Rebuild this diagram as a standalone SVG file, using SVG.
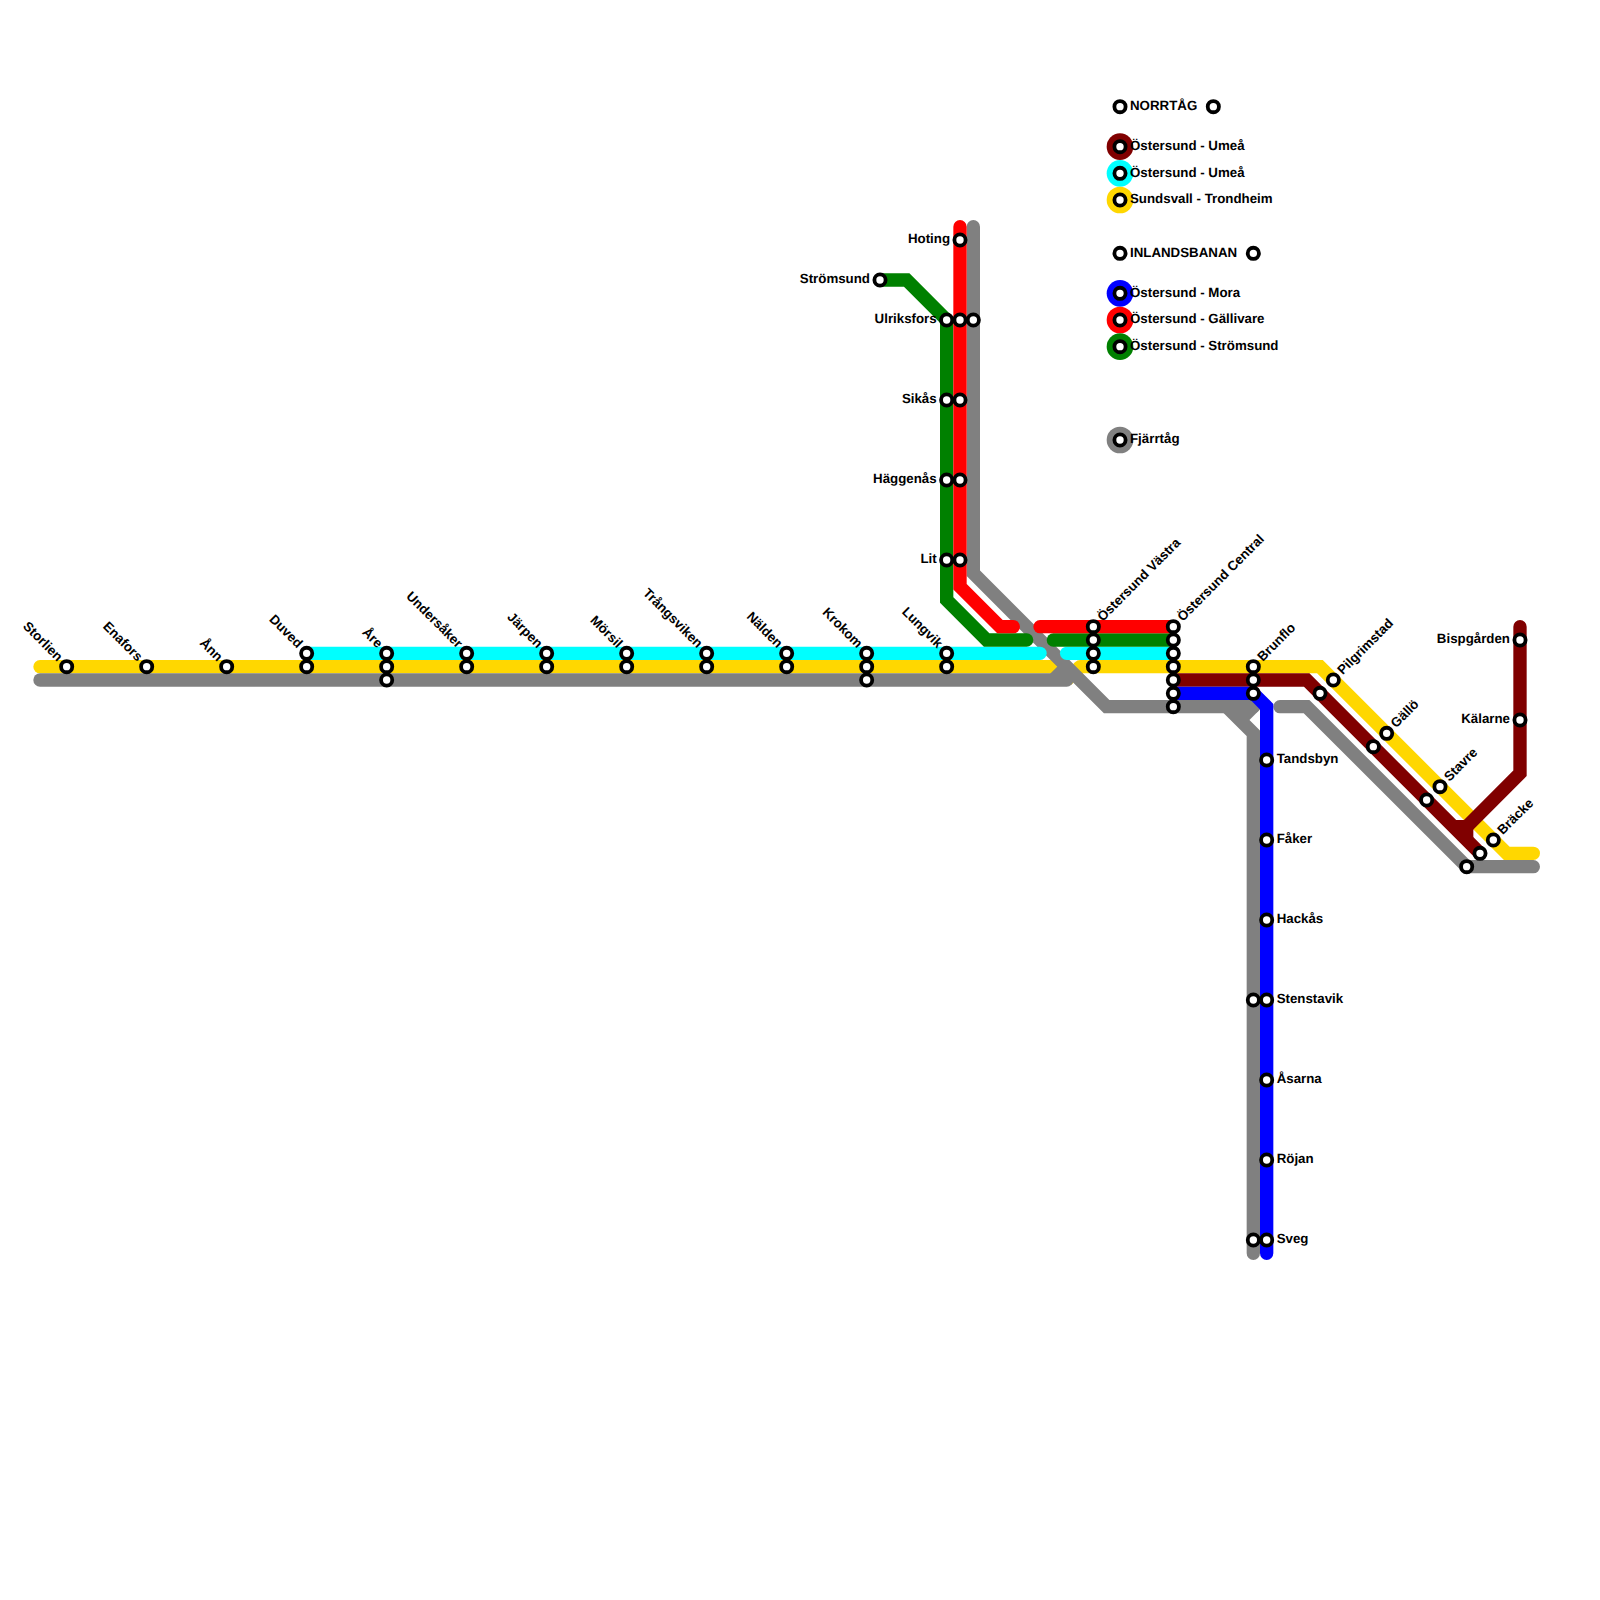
<svg xmlns="http://www.w3.org/2000/svg" width="1600" height="1600" viewBox="0 0 1600 1600">
<style>
.l{fill:none;stroke-width:13.33;stroke-linecap:round;stroke-linejoin:miter}
.b{stroke-linecap:butt}
.y{stroke:#ffd700}.c{stroke:#00ffff}.g{stroke:#008000}.r{stroke:#ff0000}.d{stroke:#800000}.a{stroke:#808080}.u{stroke:#0000ff}
circle.s{fill:#fff;stroke:#000;stroke-width:3.8}
text{font-family:"Liberation Sans",Arial,sans-serif;font-weight:700;font-size:13.3px;fill:#000;text-rendering:geometricPrecision}
.e{text-anchor:end}
</style>
<rect width="1600" height="1600" fill="#fff"/>
<g id="connectors">
<path class="l y" d="M40,666.67H1060"/>
<path class="l y b" d="M1066.67,680L1080,666.67"/>
<path class="l y" d="M1080,666.67H1320L1506.67,853.33H1533.33"/>
<path class="l a" d="M973.33,226.67V573.33L1106.67,706.67H1253.33"/>
<path class="l a" d="M40,680H1066.67"/>
<path class="l a b" d="M1053.33,680L1066.67,666.67"/>
<path class="l a b" d="M1240,720L1260,700"/>
<path class="l a" d="M1226.67,706.67L1253.33,733.33V1253.33"/>
<path class="l a" d="M1280,706.67H1306.67L1466.67,866.67H1533.33"/>
<path class="l c" d="M306.67,653.33H1040"/>
<path class="l c" d="M1066.67,653.33H1173.33"/>
<path class="l g" d="M880,280H906.67L946.67,320V600L986.67,640H1026.67"/>
<path class="l g" d="M1053.33,640H1173.33"/>
<path class="l r" d="M960,226.67V586.67L1000,626.67H1013.33"/>
<path class="l r" d="M1040,626.67H1173.33"/>
<path class="l d" d="M1173.33,680H1306.67L1480,853.33"/>
<path class="l d" d="M1520,626.67V773.33L1466.67,826.67"/>
<path class="l d b" d="M1453.33,826.67H1466.67V840"/>
<path class="l u" d="M1173.33,693.33H1253.33L1266.67,706.67V1253.33"/>
</g>
<g id="legend">
<g id="leg-norrtag"><circle class="s" cx="1120" cy="106.67" r="5.6"/><circle class="s" cx="1213.33" cy="106.67" r="5.6"/><text x="1130" y="110">NORRTÅG</text></g>
<g id="leg-umea1"><circle cx="1120" cy="146.67" r="13.33" fill="#800000"/><circle class="s" cx="1120" cy="146.67" r="5.6"/><text x="1130" y="150">Östersund - Umeå</text></g>
<g id="leg-umea2"><circle cx="1120" cy="173.33" r="13.33" fill="#00ffff"/><circle class="s" cx="1120" cy="173.33" r="5.6"/><text x="1130" y="176.67">Östersund - Umeå</text></g>
<g id="leg-sundsvall"><circle cx="1120" cy="200" r="13.33" fill="#ffd700"/><circle class="s" cx="1120" cy="200" r="5.6"/><text x="1130" y="203.33">Sundsvall - Trondheim</text></g>
<g id="leg-inland"><circle class="s" cx="1120" cy="253.33" r="5.6"/><circle class="s" cx="1253.33" cy="253.33" r="5.6"/><text x="1130" y="256.67">INLANDSBANAN</text></g>
<g id="leg-mora"><circle cx="1120" cy="293.33" r="13.33" fill="#0000ff"/><circle class="s" cx="1120" cy="293.33" r="5.6"/><text x="1130" y="296.67">Östersund - Mora</text></g>
<g id="leg-gallivare"><circle cx="1120" cy="320" r="13.33" fill="#ff0000"/><circle class="s" cx="1120" cy="320" r="5.6"/><text x="1130" y="323.33">Östersund - Gällivare</text></g>
<g id="leg-stromsund"><circle cx="1120" cy="346.67" r="13.33" fill="#008000"/><circle class="s" cx="1120" cy="346.67" r="5.6"/><text x="1130" y="350">Östersund - Strömsund</text></g>
<g id="leg-fjarr"><circle cx="1120" cy="440" r="13.33" fill="#808080"/><circle class="s" cx="1120" cy="440" r="5.6"/><text x="1130" y="443.33">Fjärrtåg</text></g>
</g>
<g id="stations">
<g id="storlien"><circle class="s" cx="66.67" cy="666.67" r="5.6"/><text class="e" transform="translate(66.67,666.67) rotate(45)" x="-10" y="3.33">Storlien</text></g>
<g id="enafors"><circle class="s" cx="146.67" cy="666.67" r="5.6"/><text class="e" transform="translate(146.67,666.67) rotate(45)" x="-10" y="3.33">Enafors</text></g>
<g id="ann"><circle class="s" cx="226.67" cy="666.67" r="5.6"/><text class="e" transform="translate(226.67,666.67) rotate(45)" x="-10" y="3.33">Ånn</text></g>
<g id="duved"><circle class="s" cx="306.67" cy="653.33" r="5.6"/><circle class="s" cx="306.67" cy="666.67" r="5.6"/><text class="e" transform="translate(306.67,653.33) rotate(45)" x="-10" y="3.33">Duved</text></g>
<g id="are"><circle class="s" cx="386.67" cy="653.33" r="5.6"/><circle class="s" cx="386.67" cy="666.67" r="5.6"/><circle class="s" cx="386.67" cy="680" r="5.6"/><text class="e" transform="translate(386.67,653.33) rotate(45)" x="-10" y="3.33">Åre</text></g>
<g id="undersaker"><circle class="s" cx="466.67" cy="653.33" r="5.6"/><circle class="s" cx="466.67" cy="666.67" r="5.6"/><text class="e" transform="translate(466.67,653.33) rotate(45)" x="-10" y="3.33">Undersåker</text></g>
<g id="jarpen"><circle class="s" cx="546.67" cy="653.33" r="5.6"/><circle class="s" cx="546.67" cy="666.67" r="5.6"/><text class="e" transform="translate(546.67,653.33) rotate(45)" x="-10" y="3.33">Järpen</text></g>
<g id="morsil"><circle class="s" cx="626.67" cy="653.33" r="5.6"/><circle class="s" cx="626.67" cy="666.67" r="5.6"/><text class="e" transform="translate(626.67,653.33) rotate(45)" x="-10" y="3.33">Mörsil</text></g>
<g id="trangsviken"><circle class="s" cx="706.67" cy="653.33" r="5.6"/><circle class="s" cx="706.67" cy="666.67" r="5.6"/><text class="e" transform="translate(706.67,653.33) rotate(45)" x="-10" y="3.33">Trångsviken</text></g>
<g id="nalden"><circle class="s" cx="786.67" cy="653.33" r="5.6"/><circle class="s" cx="786.67" cy="666.67" r="5.6"/><text class="e" transform="translate(786.67,653.33) rotate(45)" x="-10" y="3.33">Nälden</text></g>
<g id="krokom"><circle class="s" cx="866.67" cy="653.33" r="5.6"/><circle class="s" cx="866.67" cy="666.67" r="5.6"/><circle class="s" cx="866.67" cy="680" r="5.6"/><text class="e" transform="translate(866.67,653.33) rotate(45)" x="-10" y="3.33">Krokom</text></g>
<g id="lungvik"><circle class="s" cx="946.67" cy="653.33" r="5.6"/><circle class="s" cx="946.67" cy="666.67" r="5.6"/><text class="e" transform="translate(946.67,653.33) rotate(45)" x="-10" y="3.33">Lungvik</text></g>
<g id="ostersund-vastra"><circle class="s" cx="1093.33" cy="626.67" r="5.6"/><circle class="s" cx="1093.33" cy="640" r="5.6"/><circle class="s" cx="1093.33" cy="653.33" r="5.6"/><circle class="s" cx="1093.33" cy="666.67" r="5.6"/><text transform="translate(1093.33,626.67) rotate(-45)" x="10" y="3.33">Östersund Västra</text></g>
<g id="ostersund-central"><circle class="s" cx="1173.33" cy="626.67" r="5.6"/><circle class="s" cx="1173.33" cy="640" r="5.6"/><circle class="s" cx="1173.33" cy="653.33" r="5.6"/><circle class="s" cx="1173.33" cy="666.67" r="5.6"/><circle class="s" cx="1173.33" cy="680" r="5.6"/><circle class="s" cx="1173.33" cy="693.33" r="5.6"/><circle class="s" cx="1173.33" cy="706.67" r="5.6"/><text transform="translate(1173.33,626.67) rotate(-45)" x="10" y="3.33">Östersund Central</text></g>
<g id="brunflo"><circle class="s" cx="1253.33" cy="666.67" r="5.6"/><circle class="s" cx="1253.33" cy="680" r="5.6"/><circle class="s" cx="1253.33" cy="693.33" r="5.6"/><text transform="translate(1253.33,666.67) rotate(-45)" x="10" y="3.33">Brunflo</text></g>
<g id="pilgrimstad"><circle class="s" cx="1333.33" cy="680" r="5.6"/><circle class="s" cx="1320" cy="693.33" r="5.6"/><text transform="translate(1333.33,680) rotate(-45)" x="10" y="3.33">Pilgrimstad</text></g>
<g id="gallo"><circle class="s" cx="1386.67" cy="733.33" r="5.6"/><circle class="s" cx="1373.33" cy="746.67" r="5.6"/><text transform="translate(1386.67,733.33) rotate(-45)" x="10" y="3.33">Gällö</text></g>
<g id="stavre"><circle class="s" cx="1440" cy="786.67" r="5.6"/><circle class="s" cx="1426.67" cy="800" r="5.6"/><text transform="translate(1440,786.67) rotate(-45)" x="10" y="3.33">Stavre</text></g>
<g id="bracke"><circle class="s" cx="1493.33" cy="840" r="5.6"/><circle class="s" cx="1480" cy="853.33" r="5.6"/><circle class="s" cx="1466.67" cy="866.67" r="5.6"/><text transform="translate(1493.33,840) rotate(-45)" x="10" y="3.33">Bräcke</text></g>
<g id="bispgarden"><circle class="s" cx="1520" cy="640" r="5.6"/><text class="e" x="1510" y="643">Bispgården</text></g>
<g id="kalarne"><circle class="s" cx="1520" cy="720" r="5.6"/><text class="e" x="1510" y="723">Kälarne</text></g>
<g id="hoting"><circle class="s" cx="960" cy="240" r="5.6"/><text class="e" x="950" y="243">Hoting</text></g>
<g id="stromsund"><circle class="s" cx="880" cy="280" r="5.6"/><text class="e" x="870" y="283">Strömsund</text></g>
<g id="ulriksfors"><circle class="s" cx="946.67" cy="320" r="5.6"/><circle class="s" cx="960" cy="320" r="5.6"/><circle class="s" cx="973.33" cy="320" r="5.6"/><text class="e" x="936.67" y="323">Ulriksfors</text></g>
<g id="sikas"><circle class="s" cx="946.67" cy="400" r="5.6"/><circle class="s" cx="960" cy="400" r="5.6"/><text class="e" x="936.67" y="403">Sikås</text></g>
<g id="haggenas"><circle class="s" cx="946.67" cy="480" r="5.6"/><circle class="s" cx="960" cy="480" r="5.6"/><text class="e" x="936.67" y="483">Häggenås</text></g>
<g id="lit"><circle class="s" cx="946.67" cy="560" r="5.6"/><circle class="s" cx="960" cy="560" r="5.6"/><text class="e" x="936.67" y="563">Lit</text></g>
<g id="tandsbyn"><circle class="s" cx="1266.67" cy="760" r="5.6"/><text x="1276.67" y="763">Tandsbyn</text></g>
<g id="faker"><circle class="s" cx="1266.67" cy="840" r="5.6"/><text x="1276.67" y="843">Fåker</text></g>
<g id="hackas"><circle class="s" cx="1266.67" cy="920" r="5.6"/><text x="1276.67" y="923">Hackås</text></g>
<g id="stenstavik"><circle class="s" cx="1253.33" cy="1000" r="5.6"/><circle class="s" cx="1266.67" cy="1000" r="5.6"/><text x="1276.67" y="1003">Stenstavik</text></g>
<g id="asarna"><circle class="s" cx="1266.67" cy="1080" r="5.6"/><text x="1276.67" y="1083">Åsarna</text></g>
<g id="rojan"><circle class="s" cx="1266.67" cy="1160" r="5.6"/><text x="1276.67" y="1163">Röjan</text></g>
<g id="sveg"><circle class="s" cx="1253.33" cy="1240" r="5.6"/><circle class="s" cx="1266.67" cy="1240" r="5.6"/><text x="1276.67" y="1243">Sveg</text></g>
</g>
</svg>
